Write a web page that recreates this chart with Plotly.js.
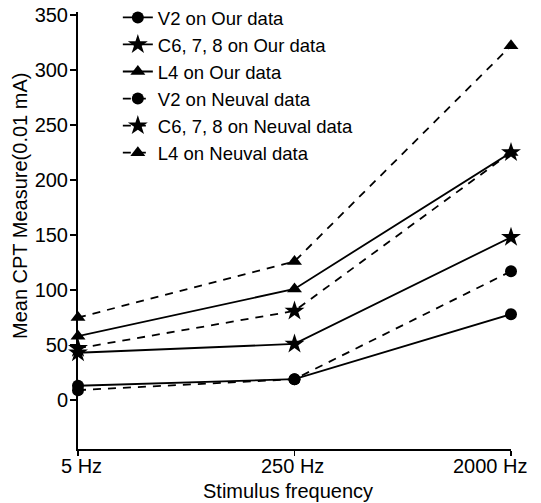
<!DOCTYPE html>
<html><head><meta charset="utf-8">
<script src="https://cdn.plot.ly/plotly-3.0.1.min.js"></script>
<style>html,body{margin:0;padding:0;background:#fff}</style>
</head><body><div id="chart" style="width:541px;height:503px"></div>
<script>
const categories = ["5 Hz", "250 Hz", "2000 Hz"];
const v2Our = [13, 19, 78];
const c678Our = [43, 51, 148];
const l4Our = [58, 101, 225];
const v2Neuval = [9, 19, 117];
const c678Neuval = [47, 81, 225];
const l4Neuval = [75, 126, 322];
const seriesNames = ["V2 on Our data", "C6, 7, 8 on Our data", "L4 on Our data",
  "V2 on Neuval data", "C6, 7, 8 on Neuval data", "L4 on Neuval data"];
const yTicks = [0, 50, 100, 150, 200, 250, 300, 350];

const xIdx = categories.map((c, i) => i);
function tr(y, name, sym, size, dash) {
  return {x: xIdx, y: y, name: name, type: 'scatter', mode: 'lines+markers',
    cliponaxis: false,
    line: {color: '#000', width: 1.8, dash: dash},
    marker: {symbol: sym, size: size, color: '#000'}};
}
const data = [
  tr(v2Our, seriesNames[0], 'circle', 12, 'solid'),
  tr(c678Our, seriesNames[1], 'star', 15, 'solid'),
  tr(l4Our, seriesNames[2], 'triangle-up', 13, 'solid'),
  tr(v2Neuval, seriesNames[3], 'circle', 12, '8px,7px'),
  tr(c678Neuval, seriesNames[4], 'star', 15, '8px,7px'),
  tr(l4Neuval, seriesNames[5], 'triangle-up', 13, '8px,7px')
];
const fam = 'Liberation Sans, Arial, sans-serif';
const f = s => ({family: fam, size: s, color: '#000'});
const PW = 433, PH = 437;
const tickAnn = categories.map((c, i) => ({
  text: c, xref: 'x', yref: 'paper', x: i, y: -4 / PH,
  xanchor: i === categories.length - 1 ? 'right' : 'center',
  xshift: i === categories.length - 1 ? 19 : (i === 0 ? 3 : -2),
  yanchor: 'top', showarrow: false, font: f(20)
}));
const layout = {
  width: 541, height: 503,
  margin: {l: 78, r: 30, t: 12, b: 54, autoexpand: false},
  paper_bgcolor: '#fff', plot_bgcolor: '#fff',
  font: f(20),
  showlegend: true,
  legend: {x: 0.092, y: 1.03, xanchor: 'left', yanchor: 'top', bgcolor: 'rgba(0,0,0,0)',
    font: f(18.5), tracegroupgap: 0, itemwidth: 30},
  xaxis: {range: [0, 2], tickvals: xIdx, showticklabels: false,
    showline: true, linecolor: '#000', linewidth: 2, showgrid: false, zeroline: false,
    ticks: 'outside', ticklen: 5, tickcolor: '#000', tickwidth: 1.5, automargin: false},
  yaxis: {range: [-44.5, 352.7], tickvals: yTicks,
    showline: true, linecolor: '#000', linewidth: 2, showgrid: false, zeroline: false,
    ticks: 'outside', ticklen: 6, tickcolor: '#000', tickwidth: 1.5, automargin: false,
    ticklabelstandoff: -2, tickfont: f(20)},
  annotations: tickAnn.concat([
    {text: 'Mean CPT Measure(0.01 mA)', xref: 'paper', yref: 'paper',
      x: (20 - 78) / PW, y: (449 - 206) / PH, xanchor: 'center', yanchor: 'middle',
      textangle: -90, showarrow: false, font: f(20)},
    {text: 'Stimulus frequency', xref: 'paper', yref: 'paper',
      x: (288 - 78) / PW, y: (449 - 491) / PH, xanchor: 'center', yanchor: 'middle',
      showarrow: false, font: f(20)}
  ])
};
Plotly.newPlot('chart', data, layout, {displayModeBar: false, staticPlot: true});
</script></body></html>
